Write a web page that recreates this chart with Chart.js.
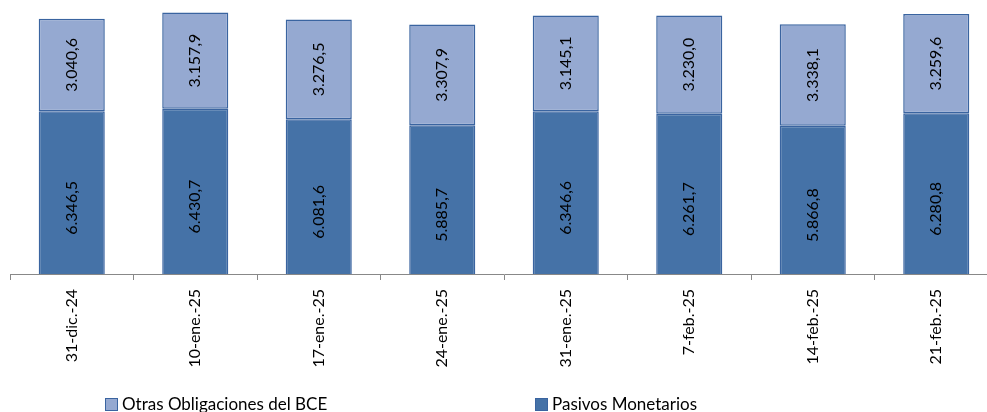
<!DOCTYPE html>
<html>
<head>
<meta charset="utf-8">
<script src="https://cdn.jsdelivr.net/npm/chart.js@4"></script>
<style>
  html, body { margin: 0; padding: 0; background: #fff; overflow: hidden; }
  #wrap { position: relative; width: 998px; height: 412px; }
  #legend { position: absolute; left: 0; top: 395px; width: 987px; height: 17px;
            font-family: Lato, "Noto Sans", sans-serif; font-size: 17px; color: #000; }
  .item { position: absolute; top: 0; white-space: nowrap; line-height: 17px; }
  .box { display: inline-block; width: 11px; height: 11px; border: 1px solid #3a64a0;
         vertical-align: -1px; margin-right: 4px; }
</style>
</head>
<body>
<div id="wrap">
  <canvas id="chart" width="998" height="412"></canvas>
  <div id="legend"></div>
</div>
<script>
const fechas = ['31-dic.-24', '10-ene.-25', '17-ene.-25', '24-ene.-25', '31-ene.-25', '7-feb.-25', '14-feb.-25', '21-feb.-25'];
const pasivosMonetarios = [6346.5, 6430.7, 6081.6, 5885.7, 6346.6, 6261.7, 5866.8, 6280.8];
const otrasObligaciones = [3040.6, 3157.9, 3276.5, 3307.9, 3145.1, 3230.0, 3338.1, 3259.6];

// 6346.5 -> "6.346,5"
function fmt(v) {
  const parts = v.toFixed(1).split('.');
  return parts[0].replace(/\B(?=(\d{3})+(?!\d))/g, '.') + ',' + parts[1];
}

// rotated value labels in the middle of each segment
const barLabels = {
  id: 'barLabels',
  afterDatasetsDraw(chart) {
    const ctx = chart.ctx;
    ctx.save();
    ctx.font = '16px Lato, "Noto Sans", sans-serif';
    ctx.fillStyle = '#000';
    ctx.textAlign = 'center';
    ctx.textBaseline = 'middle';
    chart.data.datasets.forEach((ds, i) => {
      chart.getDatasetMeta(i).data.forEach((bar, j) => {
        ctx.save();
        ctx.translate(bar.x, (bar.y + bar.base) / 2);
        ctx.rotate(-Math.PI / 2);
        ctx.fillText(fmt(ds.data[j]), 0, 0);
        ctx.restore();
      });
    });
    ctx.restore();
  }
};

const chart = new Chart(document.getElementById('chart').getContext('2d'), {
  type: 'bar',
  data: {
    labels: fechas,
    datasets: [{
      label: 'Pasivos Monetarios',
      data: pasivosMonetarios,
      backgroundColor: '#4572a7',
      borderColor: '#3a64a0',
      borderWidth: 1.5,
      borderSkipped: false
    }, {
      label: 'Otras Obligaciones del BCE',
      data: otrasObligaciones,
      backgroundColor: '#95a9d1',
      borderColor: '#3a64a0',
      borderWidth: 1.5,
      borderSkipped: false
    }]
  },
  options: {
    responsive: false,
    animation: false,
    layout: { padding: { left: 10, right: 0, top: 0, bottom: 38 } },
    categoryPercentage: 1,
    barPercentage: 0.535,
    plugins: {
      legend: { display: false },
      tooltip: { enabled: false }
    },
    scales: {
      x: {
        stacked: true,
        grid: { display: true, drawOnChartArea: false, drawTicks: true, tickLength: 6, offset: true, color: '#888' },
        border: { display: true, color: '#888', width: 1 },
        ticks: {
          minRotation: 90, maxRotation: 90, padding: 9,
          color: '#000',
          font: { family: 'Lato, "Noto Sans", sans-serif', size: 16 }
        },
        afterFit(scale) { scale.height = 100; }
      },
      y: {
        stacked: true,
        display: false,
        min: 1000,
        max: 10000
      }
    }
  },
  plugins: [barLabels]
});

// legend below the chart, Otras first
const legendPos = [105, 535];
const legend = document.getElementById('legend');
chart.data.datasets.slice().reverse().forEach((ds, i) => {
  const item = document.createElement('div');
  item.className = 'item';
  item.style.left = legendPos[i] + 'px';
  item.innerHTML = '<span class="box" style="background:' + ds.backgroundColor + '"></span>' + ds.label;
  legend.appendChild(item);
});
</script>
</body>
</html>
